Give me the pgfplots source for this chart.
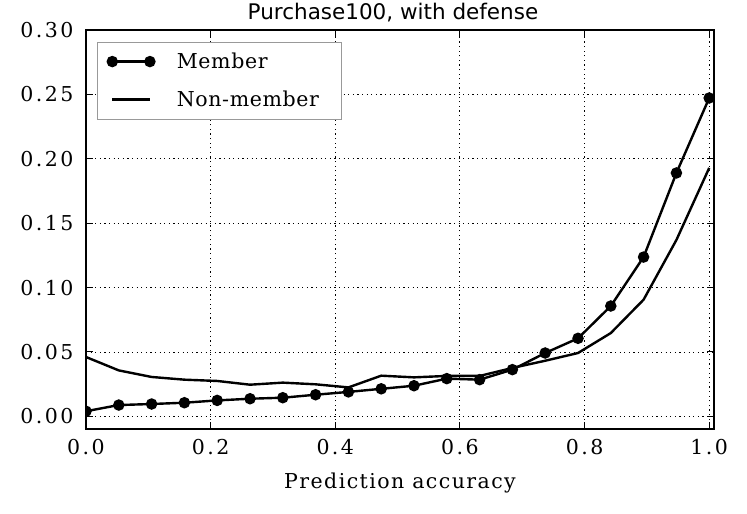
\documentclass[border=0pt]{standalone}
\usepackage{pgfplots}
\pgfplotsset{compat=1.18}
\usepackage{fontspec}
\setmainfont{DejaVu Serif}[LetterSpace=3]
\newfontfamily\tickfont{DejaVu Serif}[LetterSpace=12]
\newfontfamily\labelfont{DejaVu Serif}[LetterSpace=7]
\newfontfamily\titlefont{DejaVu Sans}
\pgfplotstableread{
x y
0.0000 0.0040
0.0526 0.0088
0.1053 0.0096
0.1579 0.0106
0.2105 0.0124
0.2632 0.0137
0.3158 0.0145
0.3684 0.0168
0.4211 0.0190
0.4737 0.0214
0.5263 0.0238
0.5789 0.0293
0.6316 0.0285
0.6842 0.0363
0.7368 0.0492
0.7895 0.0606
0.8421 0.0857
0.8947 0.1237
0.9474 0.1890
1.0000 0.2472
}\member
\pgfplotstableread{
x y
0.0000 0.0461
0.0526 0.0357
0.1053 0.0306
0.1579 0.0285
0.2105 0.0275
0.2632 0.0246
0.3158 0.0262
0.3684 0.0249
0.4211 0.0225
0.4737 0.0316
0.5263 0.0303
0.5789 0.0314
0.6316 0.0314
0.6842 0.0376
0.7368 0.0432
0.7895 0.0492
0.8421 0.0647
0.8947 0.0906
0.9474 0.1370
1.0000 0.1929
}\nonmember
\begin{document}
\begin{tikzpicture}
\begin{axis}[
  width=628bp, height=399bp, scale only axis,
  xmin=0, xmax=1.0077, ymin=-0.0098, ymax=0.30,
  xtick={0,0.2,0.4,0.6,0.8,1.0},
  xticklabels={0.0,0.2,0.4,0.6,0.8,1.0},
  ytick={0,0.05,0.10,0.15,0.20,0.25,0.30},
  yticklabels={0.00,0.05,0.10,0.15,0.20,0.25,0.30},
  tick align=inside, major tick length=7bp,
  tick style={black, line width=1bp},
  grid=major,
  grid style={black, line width=0.9bp, dash pattern=on 1.2bp off 3.4bp},
  axis line style={black, line width=1.5bp},
  tick label style={font=\fontsize{20.5bp}{24bp}\selectfont\tickfont},
  yticklabel style={xshift=-9bp},
  xticklabel style={yshift=-7bp},
  xlabel={Prediction accuracy},
  xlabel style={font=\fontsize{20.5bp}{24bp}\selectfont\labelfont, at={(axis description cs:0.5,0)}, anchor=base, yshift=-59bp},
  every axis title shift=0pt,
  title={Purchase100, with defense},
  title style={font=\fontsize{21.5bp}{24bp}\selectfont\titlefont, at={(axis description cs:0.5,1)}, anchor=base, yshift=10bp, xshift=-7bp},
  clip marker paths=true,
  legend image code/.code={\draw[#1] plot coordinates {(0bp,0bp) (37.6bp,0bp)};},
  legend cell align=left,
  legend style={at={(0.018,0.971)}, anchor=north west, draw=gray!80, line width=1bp,
    font=\fontsize{20.5bp}{24bp}\selectfont, inner xsep=10bp, inner ysep=9bp,
    column sep=22.5bp, row sep=17bp,
    nodes={inner sep=0pt, text height=17bp, text depth=4bp}},
]
\addplot[black, line width=2.4bp, mark=*, mark size=4.5bp] table[x=x,y=y]{\member};
\addlegendentry{Member}
\addplot[black, line width=2.4bp] table[x=x,y=y]{\nonmember};
\addlegendentry{Non-member\rule{13bp}{0pt}}
\end{axis}
\pgfresetboundingbox
\path ([shift={(-86bp,-85bp)}]current axis.south west) rectangle ([shift={(33bp,30bp)}]current axis.north east);
\end{tikzpicture}
\end{document}
